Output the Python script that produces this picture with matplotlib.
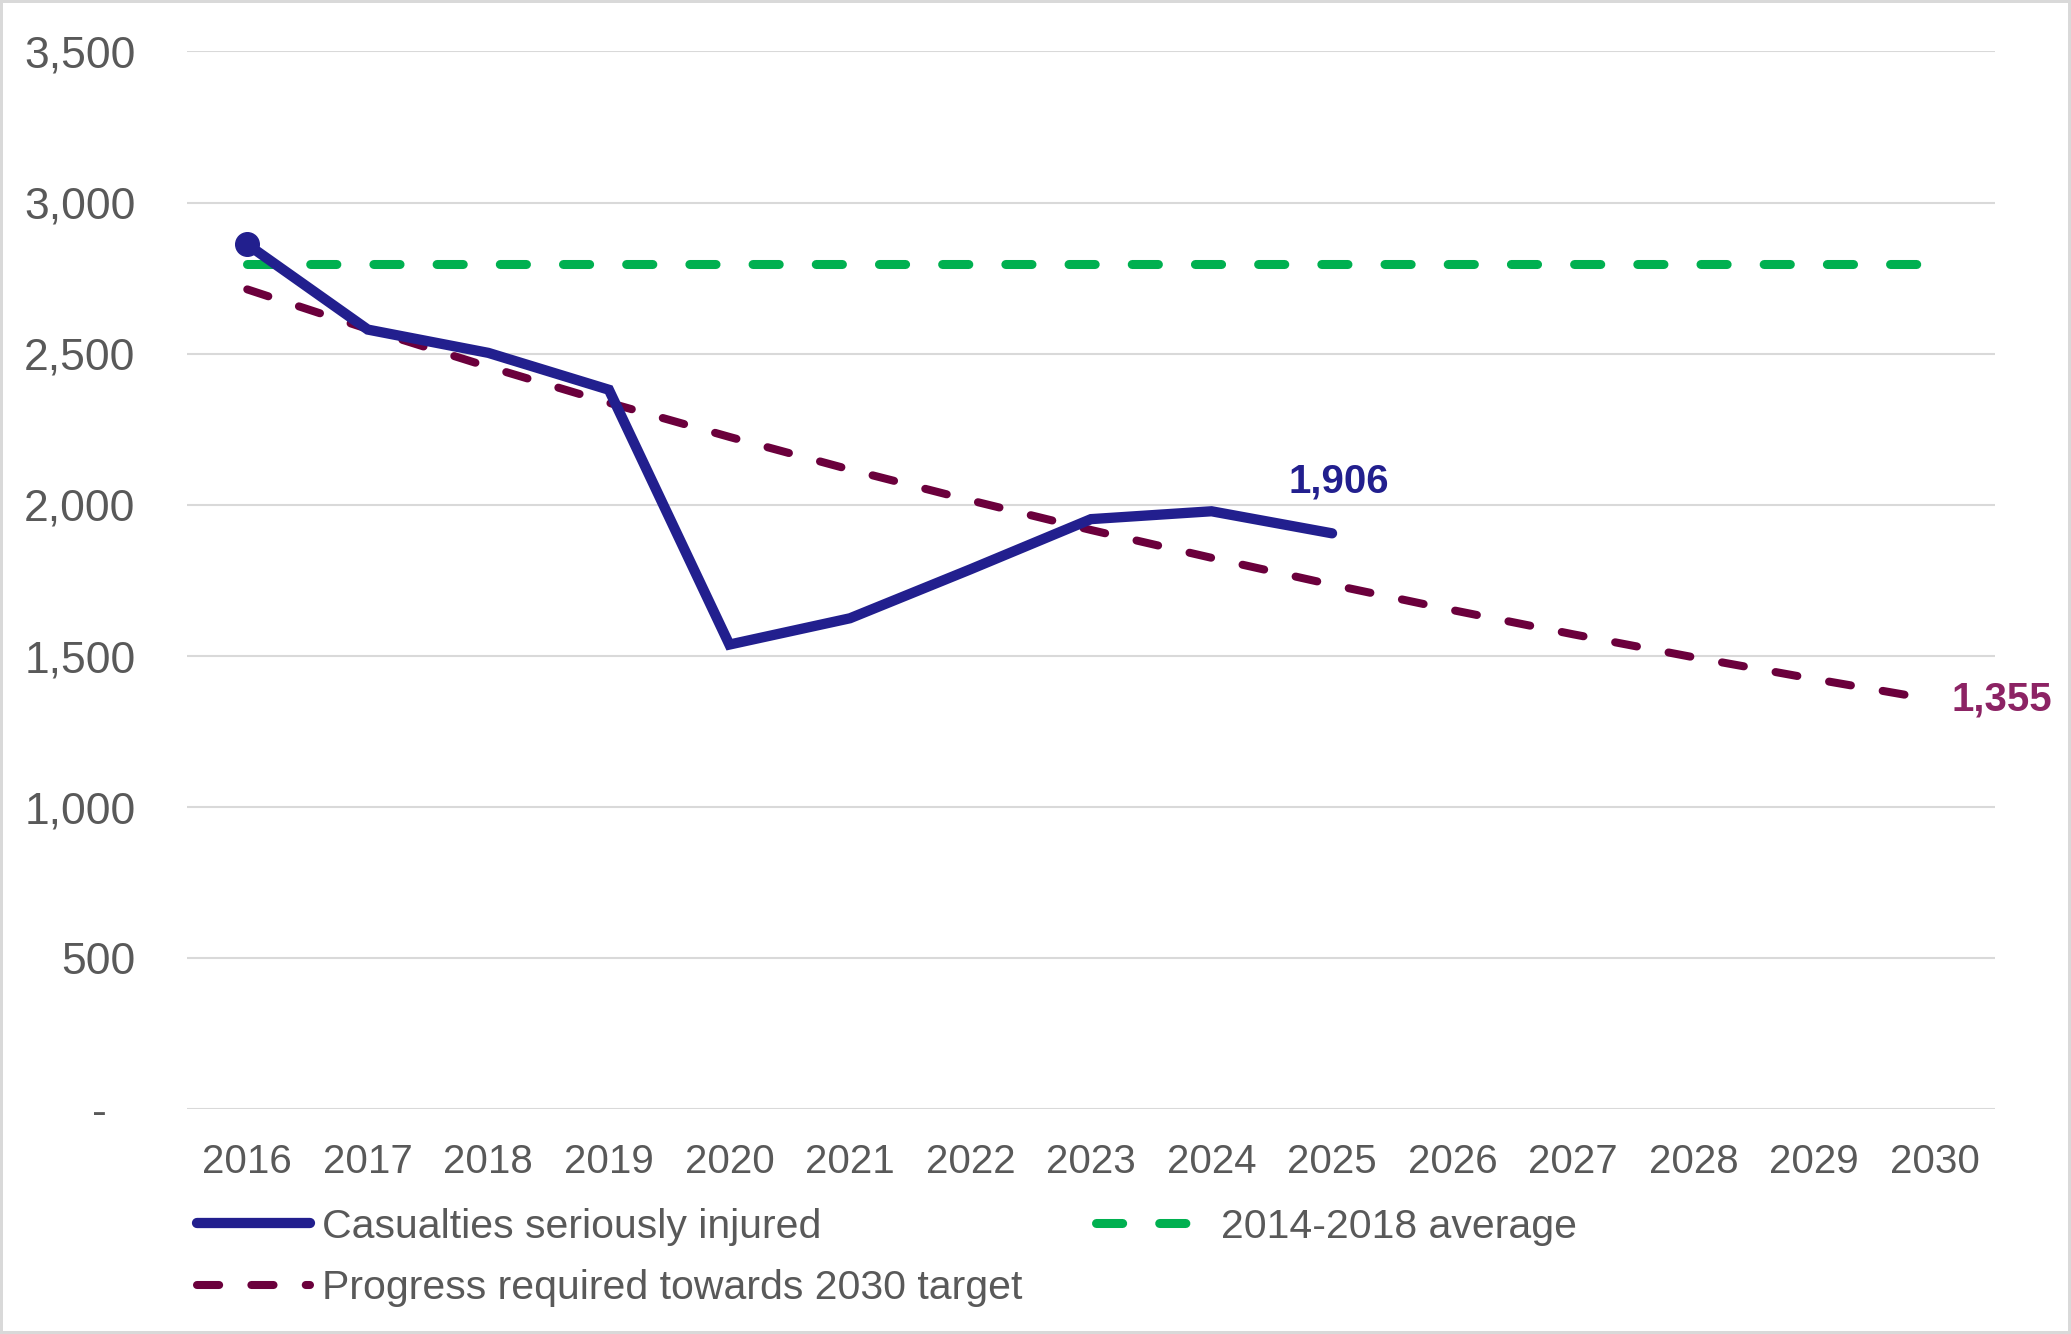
import matplotlib.pyplot as plt
import numpy as np
from matplotlib.ticker import FuncFormatter

plt.rcParams['font.family'] = ['Liberation Sans', 'DejaVu Sans']

years = [2016, 2017, 2018, 2019, 2020, 2021, 2022, 2023, 2024, 2025,
         2026, 2027, 2028, 2029, 2030]
casualties = [2862, 2580, 2503, 2381, 1538, 1625, 1787, 1953, 1979, 1906]
average_2014_2018 = [2796] * 15
target_path = [2713, 2582, 2457, 2338, 2225, 2117, 2015, 1917, 1825, 1736,
               1652, 1572, 1496, 1424, 1355]

blue = '#221F8E'
green = '#00B050'
maroon = '#6B003C'
maroon_label = '#8C2364'
grey_text = '#595959'
grid_col = '#D9D9D9'

fig = plt.figure(figsize=(20.71, 13.34), dpi=100)
fig.patch.set_edgecolor(grid_col)
fig.patch.set_linewidth(3)
ax = fig.add_axes([0.0903, 0.1683, 0.9633 - 0.0903, 0.9614 - 0.1683])

x = np.arange(len(years))

h_blue, = ax.plot(x[:len(casualties)], casualties, color=blue, lw=7.4,
                  solid_capstyle='round', solid_joinstyle='miter',
                  label='Casualties seriously injured', zorder=4)
# start marker only on the first point, kept out of the legend
ax.plot(x[0], casualties[0], 'o', color=blue, markersize=17, zorder=5)
h_green, = ax.plot(x, average_2014_2018, color=green, lw=6.5, dashes=(2.9, 4.1),
                   dash_capstyle='round', label='2014-2018 average', zorder=3)
h_red, = ax.plot(x, target_path, color=maroon, lw=5.8, dashes=(2.75, 4.0),
                 dash_capstyle='round',
                 label='Progress required towards 2030 target', zorder=3)

ax.annotate(f'{casualties[-1]:,}', (x[len(casualties) - 1], casualties[-1]),
            xytext=(5, 37), textcoords='offset points', ha='center',
            va='center', fontsize=29, fontweight='bold', color=blue)
ax.annotate(f'{target_path[-1]:,}', (x[-1], target_path[-1]),
            xytext=(12, 0), textcoords='offset points', ha='left',
            va='center', fontsize=29, fontweight='bold', color=maroon_label)

ax.set_xlim(-0.5, len(years) - 0.5)
ax.set_ylim(0, 3500)
ax.set_yticks(np.arange(0, 3501, 500))
ax.yaxis.set_major_formatter(FuncFormatter(lambda v, p: '-' if v == 0 else f'{v:,.0f}'))
ax.set_xticks(x)
ax.set_xticklabels([str(y) for y in years])
ax.tick_params(axis='y', length=0, pad=37, labelsize=32, labelcolor=grey_text)
ax.tick_params(axis='x', length=0, pad=24, labelsize=29, labelcolor=grey_text)
ax.yaxis.get_major_ticks()[0].set_pad(58)

ax.grid(axis='y', color=grid_col, lw=1.5)
ax.set_axisbelow(True)
for s in ax.spines.values():
    s.set_visible(False)

# legend is filled column-wise, so order gives rows: blue | green, red
fig.legend([h_blue, h_red, h_green],
           [h_blue.get_label(), h_red.get_label(), h_green.get_label()],
           loc='upper left', bbox_to_anchor=(0.0854, 0.110), ncol=2,
           frameon=False, fontsize=29.5, labelcolor=grey_text, borderpad=0,
           handlelength=2.75, handletextpad=0.3, columnspacing=1.8,
           labelspacing=0.57)

fig.savefig('out.png', dpi=100)
